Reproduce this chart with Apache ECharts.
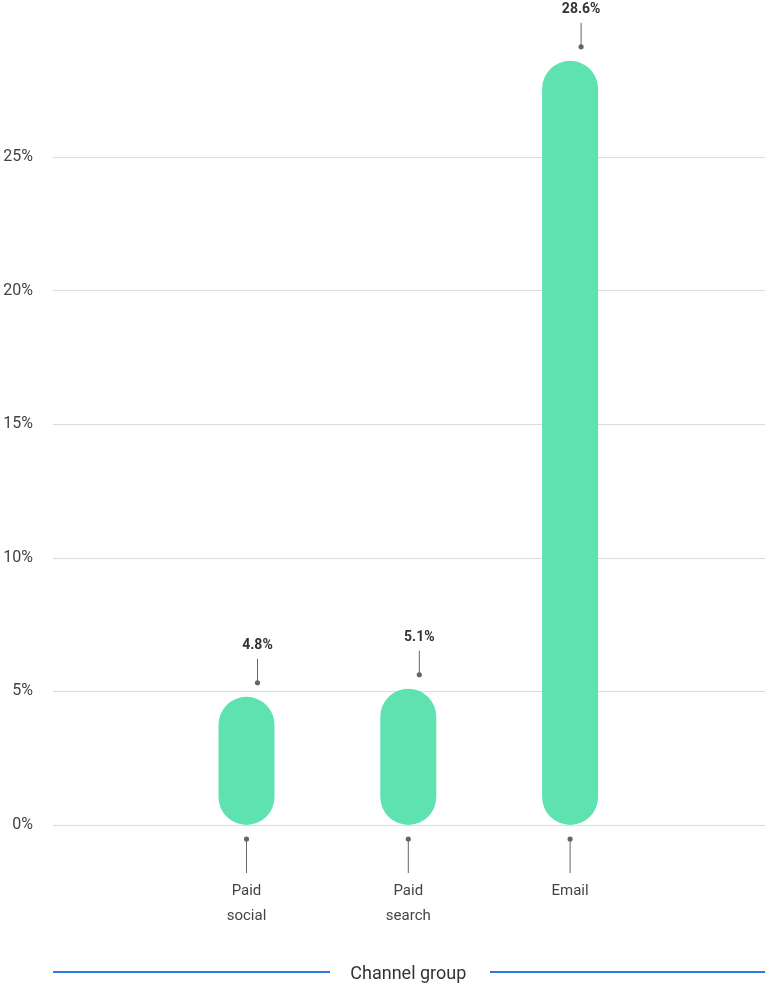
<!DOCTYPE html>
<html>
<head>
<meta charset="utf-8">
<title>Channel group</title>
<script src="https://cdn.jsdelivr.net/npm/echarts@6/dist/echarts.min.js"></script>
<style>
  html, body { margin: 0; padding: 0; background: #fff; }
  #chart { width: 769px; height: 988px; }
</style>
</head>
<body>
<div id="chart"></div>
<script>
var categories = ["Paid\nsocial", "Paid\nsearch", "Email"];
var rates = [4.8, 5.1, 28.6];
var yTicks = [0, 5, 10, 15, 20, 25];

var barColor = "#5DE2B0";
var inkColor = "#666";
var font = "Roboto, 'Noto Sans', sans-serif";

var chart = echarts.init(document.getElementById("chart"));

// top labels: dot, short stem and bold value above each bar
function renderValueLabel(params, api) {
	var p = api.coord([api.value(0), api.value(1)]);
	var x = p[0] + 11;
	return {
		type: "group",
		children: [{
			type: "line",
			shape: { x1: x, y1: p[1] - 14, x2: x, y2: p[1] - 38 },
			style: { stroke: inkColor, lineWidth: 1 }
		}, {
			type: "circle",
			shape: { cx: x, cy: p[1] - 14, r: 2.6 },
			style: { fill: inkColor }
		}, {
			type: "text",
			x: x,
			y: p[1] - 51,
			style: {
				text: rates[params.dataIndex].toFixed(1) + "%",
				fill: "#333",
				font: "bold 14px " + font,
				align: "center",
				verticalAlign: "middle"
			}
		}]
	};
}

// bottom connectors between the zero line and the category names
function renderAxisStem(params, api) {
	var p = api.coord([api.value(0), 0]);
	return {
		type: "group",
		children: [{
			type: "line",
			shape: { x1: p[0], y1: p[1] + 14, x2: p[0], y2: p[1] + 48 },
			style: { stroke: inkColor, lineWidth: 1 }
		}, {
			type: "circle",
			shape: { cx: p[0], cy: p[1] + 14, r: 2.6 },
			style: { fill: inkColor }
		}]
	};
}

var option = {
	animation: false,
	textStyle: { fontFamily: font },
	grid: [
		{ left: 53, right: 4, top: 23.4, bottom: 163, outerBoundsMode: "none" },
		{ left: 165.6, right: 118, top: 23.4, bottom: 163, outerBoundsMode: "none" }
	],
	xAxis: [{
		gridIndex: 0,
		type: "value",
		show: false
	}, {
		gridIndex: 1,
		type: "category",
		data: categories,
		axisLine: { show: false },
		axisTick: { show: false },
		axisLabel: {
			margin: 54,
			color: "#444",
			fontSize: 15,
			lineHeight: 25
		},
		name: "Channel group",
		nameLocation: "middle",
		nameGap: 140,
		nameTextStyle: { color: "#333", fontSize: 18 }
	}],
	yAxis: [{
		gridIndex: 0,
		type: "value",
		min: yTicks[0],
		max: 30,
		interval: yTicks[1] - yTicks[0],
		axisLine: { show: false },
		axisTick: { show: false },
		axisLabel: {
			formatter: "{value}%",
			color: "#444",
			fontSize: 16,
			margin: 20,
			showMaxLabel: false
		},
		splitLine: {
			showMaxLine: false,
			lineStyle: { color: "#dcdcdc", width: 1 }
		}
	}, {
		gridIndex: 1,
		type: "value",
		min: yTicks[0],
		max: 30,
		show: false,
		splitLine: { show: false }
	}],
	graphic: [{
		type: "line",
		shape: { x1: 53, y1: 972, x2: 330, y2: 972 },
		style: { stroke: "#2a7be0", lineWidth: 2 }
	}, {
		type: "line",
		shape: { x1: 490, y1: 972, x2: 765, y2: 972 },
		style: { stroke: "#2a7be0", lineWidth: 2 }
	}],
	series: [{
		type: "bar",
		xAxisIndex: 1,
		yAxisIndex: 1,
		data: rates,
		barWidth: 56,
		itemStyle: { color: barColor, borderRadius: 28 },
		z: 3
	}, {
		type: "custom",
		xAxisIndex: 1,
		yAxisIndex: 1,
		data: rates.map(function(v, i) { return [i, v]; }),
		renderItem: renderValueLabel,
		clip: false,
		z: 4
	}, {
		type: "custom",
		xAxisIndex: 1,
		yAxisIndex: 1,
		data: rates.map(function(v, i) { return [i, 0]; }),
		renderItem: renderAxisStem,
		clip: false,
		z: 4
	}]
};

chart.setOption(option);
</script>
</body>
</html>
